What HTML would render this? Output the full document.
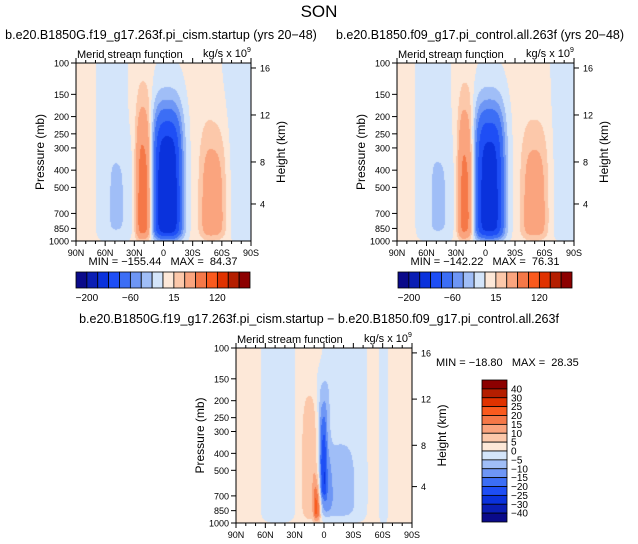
<!DOCTYPE html>
<html><head><meta charset="utf-8">
<style>
body{margin:0;background:#fff;}
#root{position:relative;width:638px;height:544px;overflow:hidden;font-family:"Liberation Sans","DejaVu Sans",sans-serif;color:#000;}
.t{position:absolute;white-space:nowrap;}
canvas{position:absolute;}
svg{position:absolute;left:0;top:0;}
svg text{white-space:pre;}
</style></head>
<body>
<div id="root">
<div class="t" style="left:0;width:638px;text-align:center;top:2px;font-size:17px;">SON</div>
<div class="t" style="left:0;width:322px;text-align:center;top:28px;font-size:12.5px;">b.e20.B1850G.f19_g17.263f.pi_cism.startup (yrs 20−48)</div>
<div class="t" style="left:322px;width:316px;text-align:center;top:28px;font-size:12.5px;">b.e20.B1850.f09_g17.pi_control.all.263f (yrs 20−48)</div>
<div class="t" style="left:0;width:638px;text-align:center;top:312px;font-size:12.5px;">b.e20.B1850G.f19_g17.263f.pi_cism.startup − b.e20.B1850.f09_g17.pi_control.all.263f</div>
<canvas id="c1" width="175" height="178" style="left:76px;top:63px"></canvas>
<canvas id="c2" width="177" height="178" style="left:397px;top:63px"></canvas>
<canvas id="c3" width="176" height="175" style="left:236px;top:348px"></canvas>
<svg id="ov" width="638" height="544"></svg>
</div>
<script>
// contour levels and palette
const levelsFull=[-200,-160,-120,-90,-60,-40,-20,0,15,30,60,90,120,150,200];
const levelsDiff=[-40,-30,-25,-20,-15,-10,-5,0,5,10,15,20,25,30,40];
const palette=["#0a0a8a","#0a1eb4","#0a32dc","#1e4ef5","#3c6ef5","#6e96f5","#a0bef7","#d4e5fa","#fde8d8","#fcc8aa","#faa47e","#f57848","#fa5a1e","#e03200","#b41e00","#8c0000"];
const latTicks=["90N","60N","30N","0","30S","60S","90S"];
const latTickVals=[90,60,30,0,-30,-60,-90];
const presTicks=[100,150,200,250,300,400,500,700,850,1000];
const heightTicks=[16,12,8,4];
const heightTickFrac=[0.028,0.292,0.556,0.792];
// cells: lat center, lat half-width, p top (half level), top softness, p bottom, amplitude
const p1Lat=[-4,20,-51,47,53,-85], p1Sig=[12.5,6.8,11,11,14,22], p1Top=[195,215,272,290,60,50], p1W=[0.09,0.128,0.113,0.06,0.05,0.05], p1Bot=[960,950,950,940,990,1000], p1Amp=[-156,80,45,-18,-9,-10];
const p2Lat=[-4,20,-50,47,53,-85], p2Sig=[12.5,6.6,11,10,15,16], p2Top=[190,212,272,300,60,50], p2W=[0.09,0.13,0.113,0.06,0.05,0.05], p2Bot=[960,950,950,940,990,1000], p2Amp=[-144,72,42,-18,-10,-10];
const p3Lat=[47,13,7,1,-14,1,-22,-61], p3Sig=[16,8,3,3,14,6,20,4], p3Top=[50,200,620,240,380,150,50,50], p3W=[0.05,0.08,0.06,0.06,0.06,0.05,0.05,0.05], p3Bot=[1000,930,950,700,900,900,1000,1000], p3Amp=[-4,8,22,-14,-8,-8,-4,-4];
const base1=4, base2=4, base3=2;

const S=x=>1/(1+Math.exp(-x));
function field(lat,p,L,Sg,T,W,B,A,base){
  let v=base;const lp=Math.log10(p);
  for(let i=0;i<L.length;i++){
    const d=Math.abs((lat-L[i])/Sg[i]);
    v+=A[i]*Math.exp(-0.5*d*d*d)*S((lp-Math.log10(T[i]))/W[i])*S((Math.log10(B[i])-lp)/0.02);
  }
  return v;
}
function colorIdx(v,lv){let k=0;while(k<lv.length&&v>=lv[k])k++;return k;}
function hex(h){return [parseInt(h.substr(1,2),16),parseInt(h.substr(3,2),16),parseInt(h.substr(5,2),16)];}
const pal=palette.map(hex);
function draw(id,L,Sg,T,W,B,A,base,lv){
  const c=document.getElementById(id),ctx=c.getContext('2d'),w=c.width,h=c.height;
  const img=ctx.createImageData(w,h);
  for(let y=0;y<h;y++){const p=Math.pow(10,2+(y+0.5)/h);
    for(let x=0;x<w;x++){const lat=90-(x+0.5)/w*180;
      const col=pal[colorIdx(field(lat,p,L,Sg,T,W,B,A,base),lv)];
      const o=(y*w+x)*4;img.data[o]=col[0];img.data[o+1]=col[1];img.data[o+2]=col[2];img.data[o+3]=255;}}
  ctx.putImageData(img,0,0);
}
draw('c1',p1Lat,p1Sig,p1Top,p1W,p1Bot,p1Amp,base1,levelsFull);
draw('c2',p2Lat,p2Sig,p2Top,p2W,p2Bot,p2Amp,base2,levelsFull);
draw('c3',p3Lat,p3Sig,p3Top,p3W,p3Bot,p3Amp,base3,levelsDiff);

const NS='http://www.w3.org/2000/svg',ov=document.getElementById('ov');
function el(tag,at,txt){const e=document.createElementNS(NS,tag);for(const k in at)e.setAttribute(k,at[k]);if(txt!==undefined)e.textContent=txt;ov.appendChild(e);return e;}
const f='Liberation Sans, DejaVu Sans, sans-serif';
function axes(L,Tp,W,H,prefix){
  const fr=el('rect',{x:L,y:Tp,width:W,height:H,fill:'none',stroke:'#000','stroke-width':1});
  
  
  latTickVals.forEach((v,i)=>{const x=L+(90-v)/180*W;
    el('line',{x1:x,y1:Tp+H,x2:x,y2:Tp+H+5,stroke:'#000'});
    el('line',{x1:x,y1:Tp,x2:x,y2:Tp-5,stroke:'#000'});
    const t=el('text',{x:x,y:Tp+H+15,'font-size':9,'text-anchor':'middle','font-family':f},latTicks[i]);
    
    
  });
  for(let v=80;v>-90;v-=10){if(v%30===0)continue;const x=L+(90-v)/180*W;
    el('line',{x1:x,y1:Tp+H,x2:x,y2:Tp+H+3,stroke:'#000'});el('line',{x1:x,y1:Tp,x2:x,y2:Tp-3,stroke:'#000'});}
  presTicks.forEach(p=>{const y=Tp+H*(Math.log10(p)-2);
    el('line',{x1:L,y1:y,x2:L-5,y2:y,stroke:'#000'});
    const t=el('text',{x:L-7,y:y+3.5,'font-size':9,'text-anchor':'end','font-family':f},String(p));
    
    
  });
  heightTicks.forEach((v,i)=>{const y=Tp+H*heightTickFrac[i];
    el('line',{x1:L+W,y1:y,x2:L+W+5,y2:y,stroke:'#000'});
    const t=el('text',{x:L+W+9,y:y+3.5,'font-size':9,'font-family':f},String(v));
    
    
  });
  const yt=el('text',{x:0,y:0,'font-size':12,'text-anchor':'middle','font-family':f,transform:`translate(${L-32},${Tp+H/2}) rotate(-90)`},'Pressure (mb)');
  
  
  const ht=el('text',{x:0,y:0,'font-size':12,'text-anchor':'middle','font-family':f,transform:`translate(${L+W+34},${Tp+H/2}) rotate(-90)`},'Height (km)');
  
  
  const a=el('text',{x:L+1,y:Tp-5,'font-size':11,'font-family':f},'Merid stream function');
  
  
  const u=el('text',{x:L+W-4,y:Tp-6,'font-size':11,'text-anchor':'end','font-family':f},'kg/s x 10');
  
  
  el('text',{x:L+W-4,y:Tp-11,'font-size':7,'font-family':f},'9');
}
axes(76,63,175,178,'panel1');
axes(397,63,177,178,'panel2');
axes(236,348,176,175,'diff');
const m1=el('text',{x:163,y:265,'font-size':11,'text-anchor':'middle','font-family':f},'MIN = −155.44   MAX =  84.37');


const m2=el('text',{x:485,y:265,'font-size':11,'text-anchor':'middle','font-family':f},'MIN = −142.22   MAX =  76.31');


const m3=el('text',{x:436,y:366,'font-size':11,'font-family':f},'MIN = −18.80   MAX =  28.35');



// horizontal colorbars
const hbarLabels=["-200","-60","15","120"], hbarLabelIdx=[1,5,9,13];
function hbar(x0,w,prefix){
  const bw=w/16;
  palette.forEach((c,i)=>{const r=el('rect',{x:x0+i*bw,y:272,width:bw,height:16,fill:c,stroke:'#000','stroke-width':0.8});
    
    });
  hbarLabels.forEach((s,i)=>{const t=el('text',{x:x0+hbarLabelIdx[i]*bw,y:301,'font-size':10,'text-anchor':'middle','font-family':f},s.replace('-','−'));
    
    });
}
hbar(76,174,'panel1');
hbar(398,174,'panel2');
// vertical colorbar for diff
const bh=142/16;
palette.slice().reverse().forEach((c,i)=>{const r=el('rect',{x:482,y:380+i*bh,width:25,height:bh,fill:c,stroke:'#000','stroke-width':0.8});
  
  });
levelsDiff.slice().reverse().forEach((v,i)=>{const t=el('text',{x:511,y:380+(i+1)*bh+3.5,'font-size':10,'font-family':f},String(v).replace('-','−'));
  
  });
</script>
</body></html>
